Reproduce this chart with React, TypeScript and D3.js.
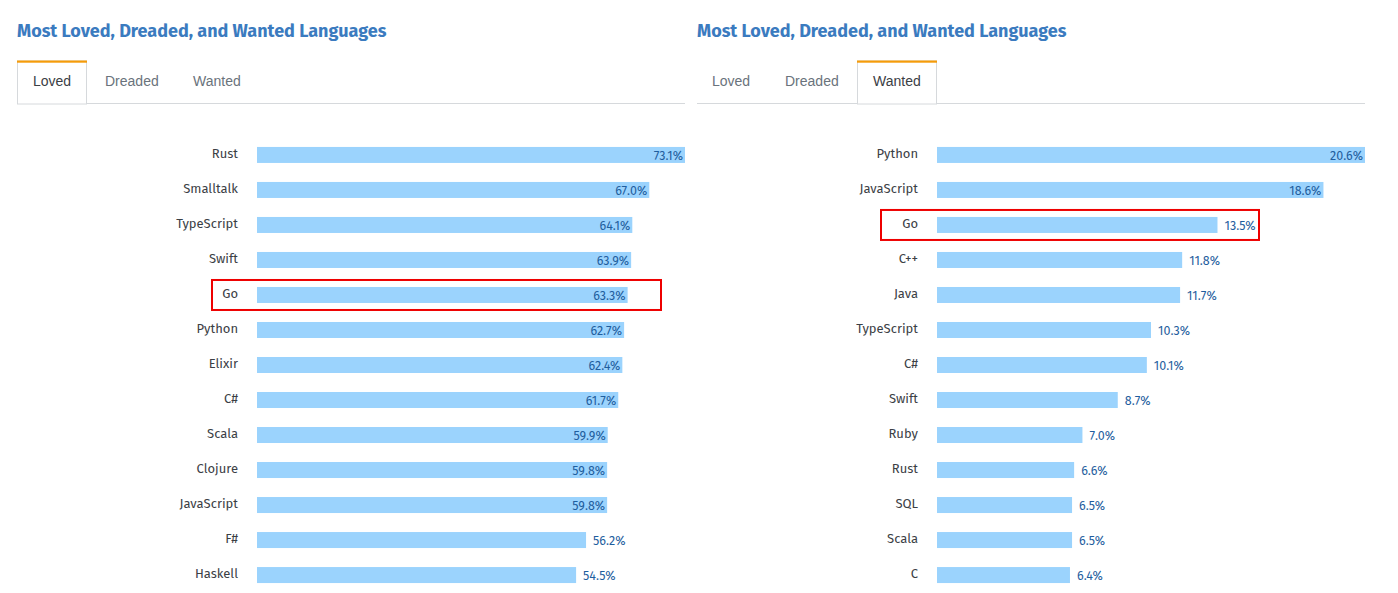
import React from "react";
import * as d3 from "d3";

const lovedLanguages = ["Rust", "Smalltalk", "TypeScript", "Swift", "Go", "Python", "Elixir", "C#", "Scala", "Clojure", "JavaScript", "F#", "Haskell"];
const lovedValues = [73.1, 67.0, 64.1, 63.9, 63.3, 62.7, 62.4, 61.7, 59.9, 59.8, 59.8, 56.2, 54.5];

const wantedLanguages = ["Python", "JavaScript", "Go", "C++", "Java", "TypeScript", "C#", "Swift", "Ruby", "Rust", "SQL", "Scala", "C"];
const wantedValues = [20.6, 18.6, 13.5, 11.8, 11.7, 10.3, 10.1, 8.7, 7.0, 6.6, 6.5, 6.5, 6.4];

const tabNames = ["Loved", "Dreaded", "Wanted"];
const chartTitle = "Most Loved, Dreaded, and Wanted Languages";

const FONT = "'Fira Sans', 'Noto Sans', 'Open Sans', sans-serif";
const TAB_FONT = "'Liberation Sans', Arial, sans-serif";

type PanelProps = {
  x0: number;
  langs: string[];
  values: number[];
  activeTab: number;
  tabXs: number[];
  activeBox: [number, number];
  highlight: number;
  boxLeft: number;
  boxRight: number;
};

function Panel({ x0, langs, values, activeTab, tabXs, activeBox, highlight, boxLeft, boxRight }: PanelProps) {
  const barStart = x0 + 240;
  const maxV = d3.max(values) as number;
  const x = d3.scaleLinear().domain([0, maxV]).range([0, 428]);
  const y = d3.scaleBand<string>().domain(langs).range([137.5, 592.5]).paddingInner(0.543).paddingOuter(0.27);
  const bw = y.bandwidth();
  const hy = y(langs[highlight]) as number;
  return (
    <g>
      <text x={x0} y={37} fontFamily={FONT} fontWeight={700} fontSize={18} fill="#3b7bbf">{chartTitle}</text>
      <line x1={x0} x2={x0 + 668} y1={103.5} y2={103.5} stroke="#d6d9dc" strokeWidth={1} />
      <rect x={activeBox[0] + 0.5} y={61} width={activeBox[1] - activeBox[0] - 1} height={43} fill="#fff" stroke="#d6d9dc" strokeWidth={1} />
      <rect x={activeBox[0]} y={60.5} width={activeBox[1] - activeBox[0]} height={2.2} fill="#f59c0a" />
      {tabNames.map((t, i) => (
        <text key={t} x={tabXs[i]} y={86.3} fontFamily={TAB_FONT} fontSize={14}
          fill={i === activeTab ? "#3b4045" : "#6a737c"}>{t}</text>
      ))}
      {langs.map((l, i) => {
        const v = values[i];
        const yy = y(l) as number;
        const w = x(v);
        const inside = v / maxV > 0.8;
        return (
          <g key={l}>
            <text x={barStart - 19} y={yy + bw / 2 + 3} textAnchor="end" fontFamily={FONT} fontSize={13} fill="#3b4045">{l}</text>
            <rect x={barStart} y={yy} width={w} height={bw} fill="#9bd3fd" />
            <text x={inside ? barStart + w - 2 : barStart + w + 7} y={yy + bw / 2 + 5}
              textAnchor={inside ? "end" : "start"} fontFamily={FONT} fontSize={12.5} fill="#1f5e9e">{v.toFixed(1)}%</text>
          </g>
        );
      })}
      <rect x={boxLeft} y={hy - 7} width={boxRight - boxLeft} height={bw + 14} fill="none" stroke="#ee0000" strokeWidth={2} />
    </g>
  );
}

export default function App() {
  return (
    <svg width={1382} height={585} style={{ display: "block", position: "absolute", left: 0, top: 0 }}>
      <rect width={1398} height={593} fill="#fff" />
      <Panel x0={17} langs={lovedLanguages} values={lovedValues} activeTab={0}
        tabXs={[33, 105, 193]} activeBox={[17, 87]} highlight={4} boxLeft={212} boxRight={661} />
      <Panel x0={697} langs={wantedLanguages} values={wantedValues} activeTab={2}
        tabXs={[712, 785, 873]} activeBox={[857, 937]} highlight={2} boxLeft={881} boxRight={1259} />
    </svg>
  );
}
